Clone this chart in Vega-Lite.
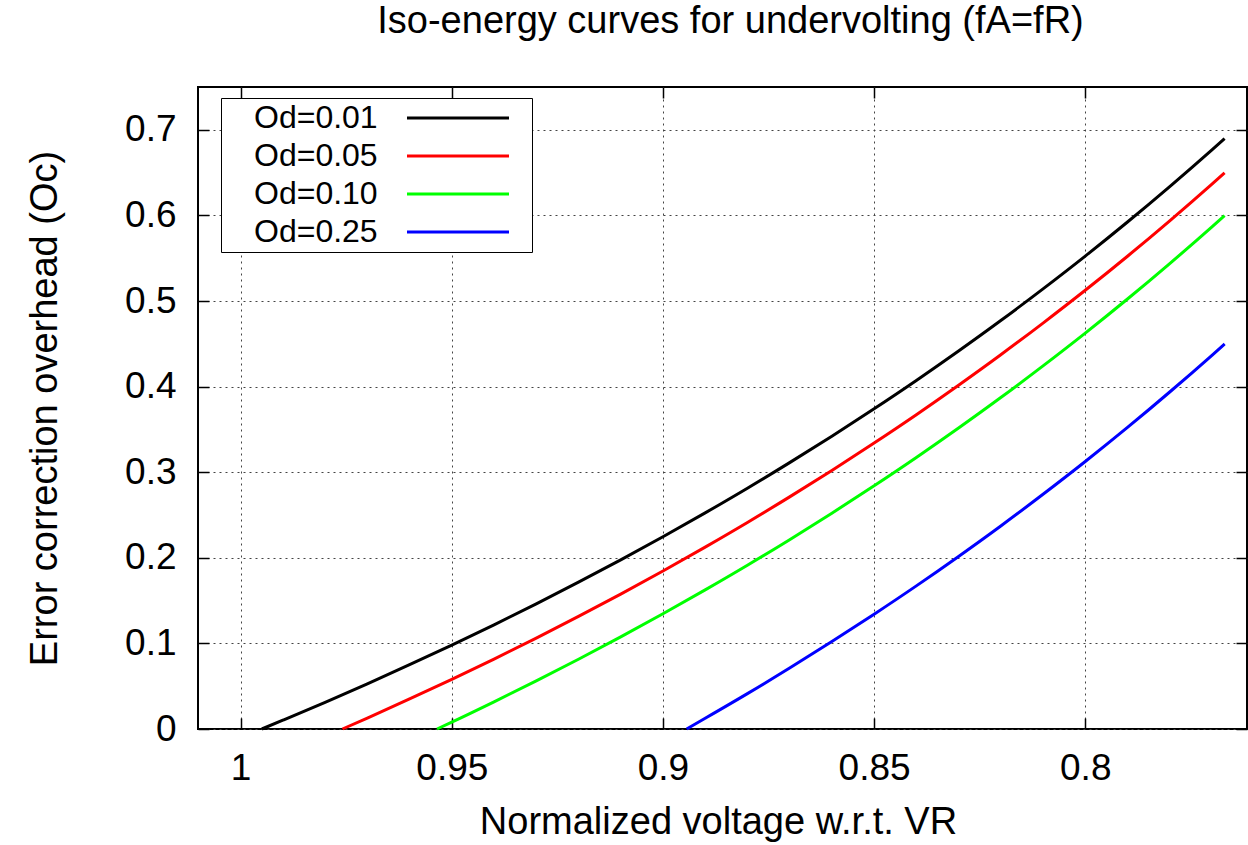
{
  "$schema": "https://vega.github.io/schema/vega-lite/v6.json",
  "autosize": "none",
  "width": 1049,
  "height": 642,
  "padding": {"left": 198, "top": 87, "right": 1, "bottom": 116},
  "background": "white",
  "title": {
    "text": "Iso-energy curves for undervolting (fA=fR)",
    "font": "Liberation Sans",
    "fontSize": 38,
    "fontWeight": "normal",
    "color": "black",
    "anchor": "middle",
    "baseline": "alphabetic",
    "offset": 15,
    "dx": 8
  },
  "config": {
    "view": {"stroke": "black", "strokeWidth": 2},
    "font": "Liberation Sans",
    "axis": {
      "domain": false,
      "tickColor": "black",
      "tickWidth": 1.5,
      "tickSize": -11,
      "labelFont": "Liberation Sans",
      "labelFontSize": 37,
      "labelColor": "black",
      "titleFont": "Liberation Sans",
      "titleFontSize": 38,
      "titleFontWeight": "normal",
      "titleColor": "black",
      "gridColor": "#444444",
      "gridDash": [2, 4],
      "gridWidth": 1,
      "gridOpacity": 1
    }
  },
  "data": {
    "values": [
      {"v": 0.99499, "o": 0.0, "s": "Od=0.01"},
      {"v": 0.99, "o": 0.0103, "s": "Od=0.01"},
      {"v": 0.98, "o": 0.0312, "s": "Od=0.01"},
      {"v": 0.97, "o": 0.0528, "s": "Od=0.01"},
      {"v": 0.96, "o": 0.0751, "s": "Od=0.01"},
      {"v": 0.95, "o": 0.098, "s": "Od=0.01"},
      {"v": 0.94, "o": 0.1217, "s": "Od=0.01"},
      {"v": 0.93, "o": 0.1462, "s": "Od=0.01"},
      {"v": 0.92, "o": 0.1715, "s": "Od=0.01"},
      {"v": 0.91, "o": 0.1976, "s": "Od=0.01"},
      {"v": 0.9, "o": 0.2246, "s": "Od=0.01"},
      {"v": 0.89, "o": 0.2525, "s": "Od=0.01"},
      {"v": 0.88, "o": 0.2813, "s": "Od=0.01"},
      {"v": 0.87, "o": 0.3112, "s": "Od=0.01"},
      {"v": 0.86, "o": 0.3421, "s": "Od=0.01"},
      {"v": 0.85, "o": 0.3741, "s": "Od=0.01"},
      {"v": 0.84, "o": 0.4072, "s": "Od=0.01"},
      {"v": 0.83, "o": 0.4416, "s": "Od=0.01"},
      {"v": 0.82, "o": 0.4772, "s": "Od=0.01"},
      {"v": 0.81, "o": 0.5142, "s": "Od=0.01"},
      {"v": 0.8, "o": 0.5525, "s": "Od=0.01"},
      {"v": 0.79, "o": 0.5923, "s": "Od=0.01"},
      {"v": 0.78, "o": 0.6337, "s": "Od=0.01"},
      {"v": 0.77, "o": 0.6766, "s": "Od=0.01"},
      {"v": 0.767, "o": 0.6898, "s": "Od=0.01"},

      {"v": 0.9759, "o": 0.0, "s": "Od=0.05"},
      {"v": 0.97, "o": 0.0128, "s": "Od=0.05"},
      {"v": 0.96, "o": 0.0351, "s": "Od=0.05"},
      {"v": 0.95, "o": 0.058, "s": "Od=0.05"},
      {"v": 0.94, "o": 0.0817, "s": "Od=0.05"},
      {"v": 0.93, "o": 0.1062, "s": "Od=0.05"},
      {"v": 0.92, "o": 0.1315, "s": "Od=0.05"},
      {"v": 0.91, "o": 0.1576, "s": "Od=0.05"},
      {"v": 0.9, "o": 0.1846, "s": "Od=0.05"},
      {"v": 0.89, "o": 0.2125, "s": "Od=0.05"},
      {"v": 0.88, "o": 0.2413, "s": "Od=0.05"},
      {"v": 0.87, "o": 0.2712, "s": "Od=0.05"},
      {"v": 0.86, "o": 0.3021, "s": "Od=0.05"},
      {"v": 0.85, "o": 0.3341, "s": "Od=0.05"},
      {"v": 0.84, "o": 0.3672, "s": "Od=0.05"},
      {"v": 0.83, "o": 0.4016, "s": "Od=0.05"},
      {"v": 0.82, "o": 0.4372, "s": "Od=0.05"},
      {"v": 0.81, "o": 0.4742, "s": "Od=0.05"},
      {"v": 0.8, "o": 0.5125, "s": "Od=0.05"},
      {"v": 0.79, "o": 0.5523, "s": "Od=0.05"},
      {"v": 0.78, "o": 0.5937, "s": "Od=0.05"},
      {"v": 0.77, "o": 0.6366, "s": "Od=0.05"},
      {"v": 0.767, "o": 0.6498, "s": "Od=0.05"},

      {"v": 0.9535, "o": 0.0, "s": "Od=0.10"},
      {"v": 0.95, "o": 0.008, "s": "Od=0.10"},
      {"v": 0.94, "o": 0.0317, "s": "Od=0.10"},
      {"v": 0.93, "o": 0.0562, "s": "Od=0.10"},
      {"v": 0.92, "o": 0.0815, "s": "Od=0.10"},
      {"v": 0.91, "o": 0.1076, "s": "Od=0.10"},
      {"v": 0.9, "o": 0.1346, "s": "Od=0.10"},
      {"v": 0.89, "o": 0.1625, "s": "Od=0.10"},
      {"v": 0.88, "o": 0.1913, "s": "Od=0.10"},
      {"v": 0.87, "o": 0.2212, "s": "Od=0.10"},
      {"v": 0.86, "o": 0.2521, "s": "Od=0.10"},
      {"v": 0.85, "o": 0.2841, "s": "Od=0.10"},
      {"v": 0.84, "o": 0.3172, "s": "Od=0.10"},
      {"v": 0.83, "o": 0.3516, "s": "Od=0.10"},
      {"v": 0.82, "o": 0.3872, "s": "Od=0.10"},
      {"v": 0.81, "o": 0.4242, "s": "Od=0.10"},
      {"v": 0.8, "o": 0.4625, "s": "Od=0.10"},
      {"v": 0.79, "o": 0.5023, "s": "Od=0.10"},
      {"v": 0.78, "o": 0.5437, "s": "Od=0.10"},
      {"v": 0.77, "o": 0.5866, "s": "Od=0.10"},
      {"v": 0.767, "o": 0.5998, "s": "Od=0.10"},

      {"v": 0.8944, "o": 0.0, "s": "Od=0.25"},
      {"v": 0.89, "o": 0.0125, "s": "Od=0.25"},
      {"v": 0.88, "o": 0.0413, "s": "Od=0.25"},
      {"v": 0.87, "o": 0.0712, "s": "Od=0.25"},
      {"v": 0.86, "o": 0.1021, "s": "Od=0.25"},
      {"v": 0.85, "o": 0.1341, "s": "Od=0.25"},
      {"v": 0.84, "o": 0.1672, "s": "Od=0.25"},
      {"v": 0.83, "o": 0.2016, "s": "Od=0.25"},
      {"v": 0.82, "o": 0.2372, "s": "Od=0.25"},
      {"v": 0.81, "o": 0.2742, "s": "Od=0.25"},
      {"v": 0.8, "o": 0.3125, "s": "Od=0.25"},
      {"v": 0.79, "o": 0.3523, "s": "Od=0.25"},
      {"v": 0.78, "o": 0.3937, "s": "Od=0.25"},
      {"v": 0.77, "o": 0.4366, "s": "Od=0.25"},
      {"v": 0.767, "o": 0.4498, "s": "Od=0.25"}
    ]
  },
  "layer": [
    {
      "mark": {"type": "line", "strokeWidth": 3, "interpolate": "monotone"},
      "encoding": {
        "x": {
          "field": "v",
          "type": "quantitative",
          "scale": {"domain": [0.7617, 1.0101], "reverse": true, "nice": false, "zero": false},
          "axis": {
            "values": [1, 0.95, 0.9, 0.85, 0.8],
            "format": "~g",
            "title": "Normalized voltage w.r.t. VR",
            "labelPadding": 32,
            "titleBaseline": "alphabetic",
            "titleAlign": "center",
            "titleX": 520,
            "titleY": 104
          }
        },
        "y": {
          "field": "o",
          "type": "quantitative",
          "scale": {"domain": [0, 0.75], "nice": false},
          "axis": {
            "values": [0, 0.1, 0.2, 0.3, 0.4, 0.5, 0.6, 0.7],
            "format": "~g",
            "title": "Error correction overhead (Oc)",
            "labelPadding": 33,
            "titleAngle": -90,
            "titleAlign": "center",
            "titleBaseline": "middle",
            "titleX": -153,
            "titleY": 321
          }
        },
        "color": {
          "field": "s",
          "type": "nominal",
          "scale": {
            "domain": ["Od=0.01", "Od=0.05", "Od=0.10", "Od=0.25"],
            "range": ["#000000", "#ff0000", "#00ff00", "#0000ff"]
          },
          "legend": {
            "title": null,
            "orient": "none",
            "legendX": 23,
            "legendY": 11,
            "fillColor": "white",
            "strokeColor": "black",
            "padding": 4,
            "symbolType": "M166,0H268M281,0",
            "symbolSize": 4,
            "symbolStrokeWidth": 3,
            "labelFont": "Liberation Sans",
            "labelFontSize": 32,
            "labelColor": "black",
            "labelOffset": -3,
            "rowPadding": 6,
            "labelLimit": 0
          }
        }
      }
    },
    {
      "mark": {"type": "point", "opacity": 0},
      "encoding": {
        "x": {
          "field": "v",
          "type": "quantitative",
          "scale": {"domain": [0.7617, 1.0101], "reverse": true, "nice": false, "zero": false},
          "axis": {"orient": "top", "values": [1, 0.95, 0.9, 0.85, 0.8], "labels": false, "grid": false, "title": null}
        },
        "y": {
          "field": "o",
          "type": "quantitative",
          "scale": {"domain": [0, 0.75], "nice": false},
          "axis": {"orient": "right", "values": [0, 0.1, 0.2, 0.3, 0.4, 0.5, 0.6, 0.7], "labels": false, "grid": false, "title": null}
        }
      }
    }
  ],
  "resolve": {"scale": {"x": "independent", "y": "independent"}}
}
